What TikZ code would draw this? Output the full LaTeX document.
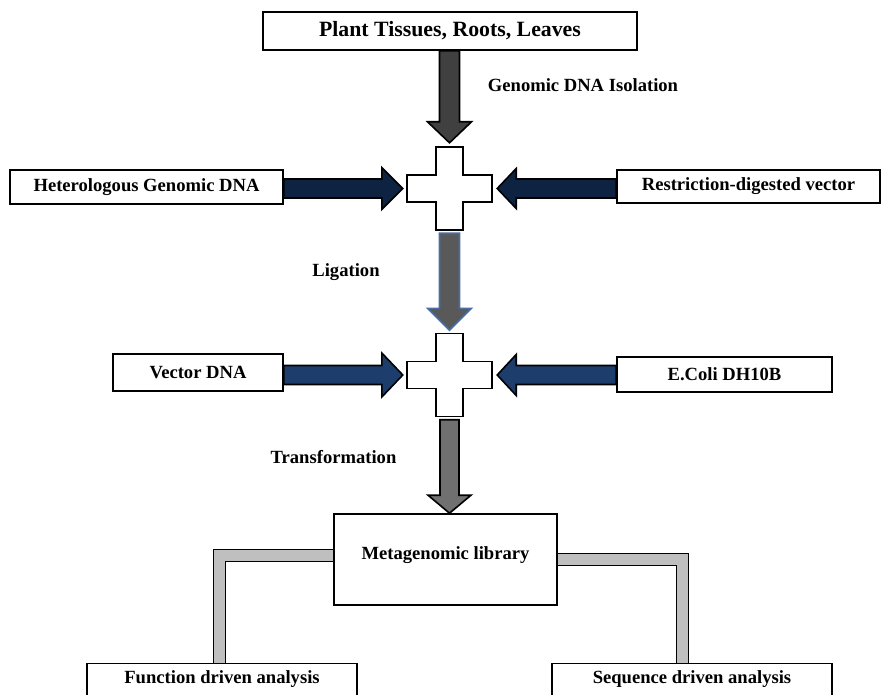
\documentclass[tikz,border=0pt]{standalone}
\usepackage{fontspec}
\setmainfont{Liberation Serif}
\usetikzlibrary{calc}

\definecolor{darkshaft}{HTML}{404040}
\definecolor{ligfill}{HTML}{595959}
\definecolor{ligedge}{HTML}{4A6DA3}
\definecolor{trafill}{HTML}{707070}
\definecolor{navyA}{HTML}{0E2341}
\definecolor{navyB}{HTML}{1D3E6C}
\definecolor{elbowgray}{HTML}{BFBFBF}

% block arrow: style, from, to, shaft half width, head half width, head length
\newcommand{\fatarrow}[6]{%
  \coordinate (fa-s) at (#2);
  \coordinate (fa-e) at (#3);
  \coordinate (fa-h) at ($(fa-e)!#6!(fa-s)$);
  \draw[#1] ($(fa-s)!#4!90:(fa-e)$) -- ($(fa-h)!#4!90:(fa-e)$) -- ($(fa-h)!#5!90:(fa-e)$)
    -- (fa-e) -- ($(fa-h)!#5!-90:(fa-e)$) -- ($(fa-h)!#4!-90:(fa-e)$) -- ($(fa-s)!#4!-90:(fa-e)$) -- cycle;
}

\begin{document}
\begin{tikzpicture}[x=1pt,y=-1pt,
  font=\bfseries\fontsize{18.6}{20}\selectfont,
  stepbox/.style={draw=black, line width=1.6pt, fill=white, inner sep=0pt},
  joinbox/.style={inner sep=0pt, minimum width=85pt, minimum height=83pt},
  plusmark/.pic={\draw[line width=1.6pt, fill=white]
    (-13.5,-41.5) -- (13.5,-41.5) -- (13.5,-13.5) -- (42.5,-13.5) -- (42.5,13.5) -- (13.5,13.5)
    -- (13.5,41.5) -- (-13.5,41.5) -- (-13.5,13.5) -- (-42.5,13.5) -- (-42.5,-13.5) -- (-13.5,-13.5) -- cycle;},
  fat/.style={draw=black, line width=1.6pt, miter limit=10},
  elbow/.style={draw=black, line width=1.5pt, double=elbowgray, double distance=10.5pt}]

\useasboundingbox (0,0) rectangle (883,695);

% boxes
\node[stepbox, minimum width=374pt, minimum height=38pt, font=\bfseries\fontsize{21.8}{23}\selectfont] (plant) at (450,31) {Plant Tissues, Roots, Leaves};
\node[stepbox, minimum width=273pt, minimum height=34pt] (hetero) at (146.5,187) {Heterologous Genomic DNA};
\node[stepbox, minimum width=263pt, minimum height=33pt] (restrict) at (748.5,186.5) {Restriction-digested vector};
\node[stepbox, minimum width=170pt, minimum height=37pt] (vector) at (198,372.5) {Vector DNA};
\node[stepbox, minimum width=215pt, minimum height=35pt] (ecoli) at (724.5,374.5) {E.Coli DH10B};
\node[stepbox, minimum width=223pt, minimum height=91pt, text depth=12pt] (meta) at (445.5,559.5) {Metagenomic library};
\node[stepbox, minimum width=270pt, minimum height=32pt] (func) at (222,679.5) {Function driven analysis};
\node[stepbox, minimum width=280pt, minimum height=32pt] (seq) at (692,679.5) {Sequence driven analysis};

% plus signs
\node[joinbox] (join1) at (449.5,188.5) {};
\node[joinbox] (join2) at (449.5,375) {};
\pic at (join1) {plusmark};
\pic at (join2) {plusmark};

% step labels
\node (isol) at (583,85) {Genomic DNA Isolation};
\node (lig) at (346,272) {Ligation};
\node (trans) at (333.5,457) {Transformation};

% arrows
\fatarrow{fat, fill=darkshaft}{plant.south -| join1}{$(join1.north)+(0,-4)$}{10pt}{22pt}{21pt}
\fatarrow{fat, fill=navyA}{hetero.east |- join1}{$(join1.west)+(-4,0)$}{9.5pt}{21pt}{21pt}
\fatarrow{fat, fill=navyA}{restrict.west |- join1}{$(join1.east)+(5,0)$}{9.5pt}{20pt}{19pt}
\fatarrow{fat, draw=ligedge, fill=ligfill}{$(join1.south)+(0,3)$}{$(join2.north)+(0,-3)$}{10pt}{22pt}{22pt}
\fatarrow{fat, fill=navyB}{vector.east |- join2}{$(join2.west)+(-4,0)$}{9.5pt}{22pt}{21pt}
\fatarrow{fat, fill=navyB}{ecoli.west |- join2}{$(join2.east)+(5,0)$}{9.5pt}{20.5pt}{19pt}
\fatarrow{fat, fill=trafill}{$(join2.south)+(0,3)$}{meta.north -| join2}{9.5pt}{21.5pt}{18pt}

% branches
\draw[elbow] ($(meta.west)+(0,-4)$) -| ($(func.north)+(-2.5,0)$);
\draw[elbow] (meta.east) -| ($(seq.north)+(-9.5,0)$);
\end{tikzpicture}
\end{document}
